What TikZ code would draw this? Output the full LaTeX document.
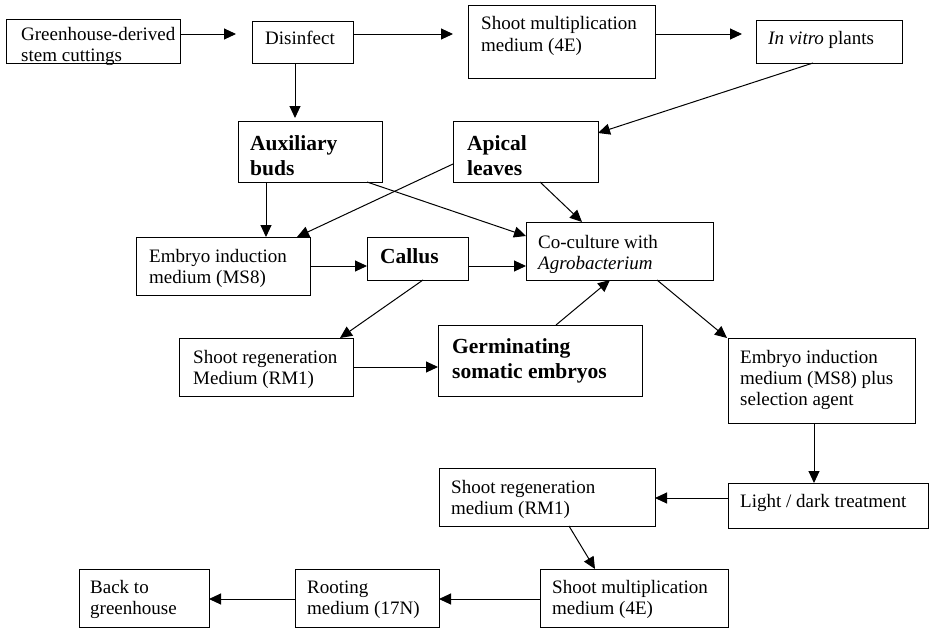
\documentclass[tikz,border=0pt]{standalone}
\usepackage{fontspec}
\setmainfont{Liberation Serif}
\usetikzlibrary{arrows.meta,calc}
\newcommand\rgfont{\fontsize{19}{21}\selectfont}
\newcommand\bdfont{\fontsize{21.5}{25}\selectfont\bfseries}
\newcommand\lns[1]{\begin{tabular}[t]{@{}l@{}}#1\end{tabular}}
\begin{document}
\begin{tikzpicture}[x=1pt,y=-1pt,
  box/.style={draw=black, line width=1pt, inner sep=0pt, outer sep=0pt, anchor=north west},
  txt/.style={inner sep=0pt, anchor=base west, font=\rgfont},
  btxt/.style={inner sep=0pt, anchor=base west, font=\bdfont},
  arr/.style={line width=1pt, -{Triangle[length=12pt,width=11pt]}}]
\useasboundingbox[fill=white] (0,0) rectangle (930,629);
% boxes
\node[box, minimum width=174pt, minimum height=44pt] (gh) at (6,19) {};
\node[box, minimum width=101pt, minimum height=42pt] (dis) at (252,21) {};
\node[box, minimum width=187pt, minimum height=73pt] (sm) at (468,5) {};
\node[box, minimum width=146pt, minimum height=43pt] (iv) at (756,20) {};
\node[box, minimum width=144pt, minimum height=61pt] (ab) at (238,121) {};
\node[box, minimum width=145pt, minimum height=61pt] (al) at (453,121) {};
\node[box, minimum width=174pt, minimum height=58pt] (ei) at (136,237) {};
\node[box, minimum width=101pt, minimum height=43pt] (ca) at (367,237) {};
\node[box, minimum width=187pt, minimum height=58pt] (cc) at (526,222) {};
\node[box, minimum width=174pt, minimum height=58pt] (sr) at (179,338) {};
\node[box, minimum width=204pt, minimum height=71pt] (ge) at (438,325) {};
\node[box, minimum width=187pt, minimum height=85pt] (es) at (728,338) {};
\node[box, minimum width=200pt, minimum height=45pt] (ld) at (728,483) {};
\node[box, minimum width=216pt, minimum height=58pt] (sr2) at (439,468) {};
\node[box, minimum width=188pt, minimum height=58pt] (sm2) at (540,569) {};
\node[box, minimum width=144pt, minimum height=58pt] (ro) at (295,569) {};
\node[box, minimum width=130pt, minimum height=58pt] (bk) at (79,569) {};
% texts
\node[txt] (gh-t) at (21,40) {\lns{Greenhouse-derived\\stem cuttings}};
\node[txt] (dis-t) at (265,45) {Disinfect};
\node[txt] (sm-t) at (481,30) {\lns{Shoot multiplication\\medium (4E)}};
\node[txt] (iv-t) at (768,45) {\textit{In vitro} plants};
\node[btxt] (ab-t) at (250,150) {\lns{Auxiliary\\buds}};
\node[btxt] (al-t) at (467,150) {\lns{Apical\\leaves}};
\node[txt] (ei-t) at (149,262) {\lns{Embryo induction\\medium (MS8)}};
\node[btxt] (ca-t) at (380,263) {Callus};
\node[txt] (cc-t) at (538,248) {\lns{Co-culture with\\\textit{Agrobacterium}}};
\node[txt] (sr-t) at (193,363) {\lns{Shoot regeneration\\Medium (RM1)}};
\node[btxt] (ge-t) at (452,353) {\lns{Germinating\\somatic embryos}};
\node[txt] (es-t) at (740,363) {\lns{Embryo induction\\medium (MS8) plus\\selection agent}};
\node[txt] (ld-t) at (740,507) {Light / dark treatment};
\node[txt] (sr2-t) at (451,493) {\lns{Shoot regeneration\\medium (RM1)}};
\node[txt] (sm2-t) at (552,593) {\lns{Shoot multiplication\\medium (4E)}};
\node[txt] (ro-t) at (307,593) {\lns{Rooting\\medium (17N)}};
\node[txt] (bk-t) at (90,593) {\lns{Back to\\greenhouse}};
% connectors
\draw[arr, shorten >=16pt] (gh.east |- 0,34) -- (dis.west |- 0,34);
\draw[arr, shorten >=15pt] (dis.east |- 0,34) -- (sm.west |- 0,34);
\draw[arr, shorten >=14pt] (sm.east |- 0,34) -- (iv.west |- 0,34);
\draw[arr, shorten >=3pt] (295,0 |- dis.south) -- (295,0 |- ab.north);
\draw[arr] ($(iv.south west)+(57,0)$) -- ($(al.north east)+(0,12)$);
\draw[arr] (266,0 |- ab.south) -- (266,0 |- ei.north);
\draw[arr] ($(al.north west)+(0,43)$) -- ($(ei.north west)+(161,0)$);
\draw[arr] ($(ab.south west)+(129,0)$) -- ($(cc.north west)+(0,14)$);
\draw[arr] ($(al.south west)+(87,0)$) -- ($(cc.north west)+(56,0)$);
\draw[arr] (ei.east |- 0,266) -- (ca.west |- 0,266);
\draw[arr] (ca.east |- 0,266) -- (cc.west |- 0,266);
\draw[arr] ($(ca.south west)+(56,0)$) -- ($(sr.north west)+(161,0)$);
\draw[arr] (sr.east |- 0,367) -- (ge.west |- 0,367);
\draw[arr] ($(ge.north west)+(118,0)$) -- ($(cc.south west)+(84,0)$);
\draw[arr] ($(cc.south west)+(131,0)$) -- ($(es.north west)+(-1,0)$);
\draw[arr] (814,0 |- es.south) -- (814,0 |- ld.north);
\draw[arr] (ld.west |- 0,498) -- (sr2.east |- 0,498);
\draw[arr] ($(sr2.south west)+(130,0)$) -- ($(sm2.north west)+(55,0)$);
\draw[arr] (sm2.west |- 0,599) -- (ro.east |- 0,599);
\draw[arr] (ro.west |- 0,599) -- (bk.east |- 0,599);
\end{tikzpicture}
\end{document}
